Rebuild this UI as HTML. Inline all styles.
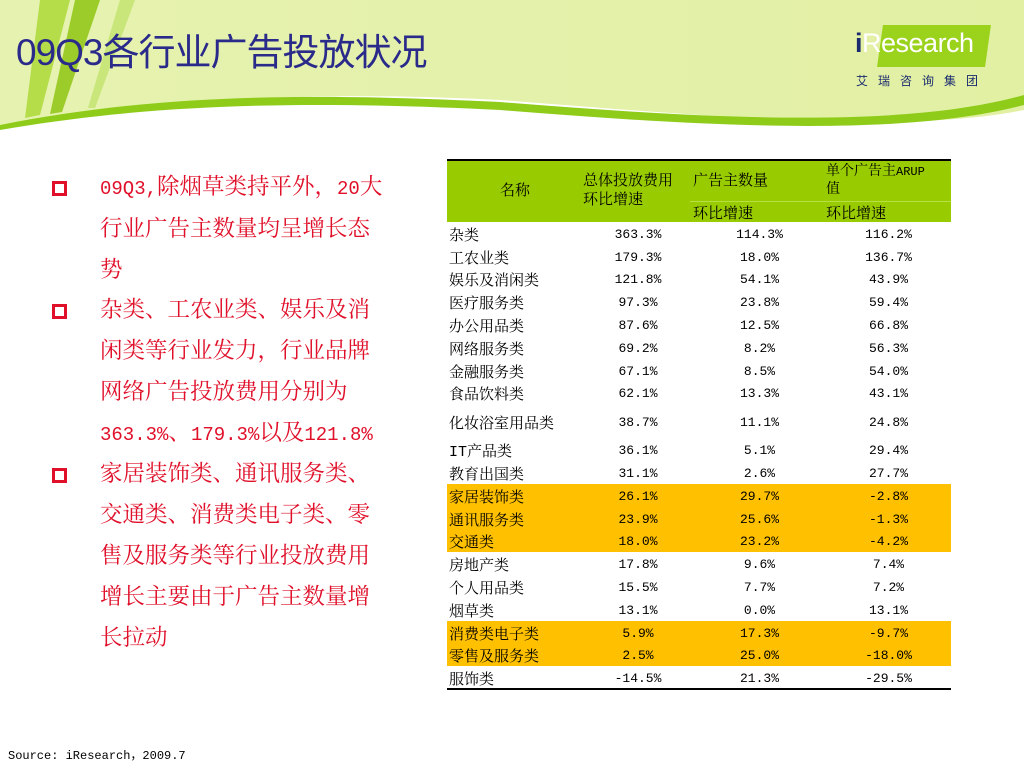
<!DOCTYPE html>
<html><head><meta charset="utf-8">
<style>
body{margin:0;width:1024px;height:768px;position:relative;overflow:hidden;background:#fff;font-family:"Liberation Mono","Noto Serif CJK SC",serif;}
.abs{position:absolute;}
#title{left:16px;top:22px;font-family:"Liberation Sans","Noto Sans CJK SC",sans-serif;font-size:37px;color:#2a2a8a;letter-spacing:-1px;white-space:nowrap;}
.bl{position:absolute;left:100px;width:300px;font-size:22.5px;line-height:41px;color:#e0102a;white-space:nowrap;}
.bl span{font-size:19px;}
.sq{position:absolute;left:52px;width:9px;height:9px;border:3px solid #e0102a;}
#tbl{position:absolute;left:447px;top:159px;width:504px;border-top:2px solid #000;border-bottom:2px solid #000;}
.row{position:absolute;left:0;width:504px;font-size:13px;color:#000;}
.c{position:absolute;top:1px;height:100%;display:flex;align-items:center;}
.nm{font-size:15px;}
.hd{font-size:15px;line-height:19px;}
</style></head><body>
<svg class="abs" style="left:0;top:0" width="1024" height="140">
<defs><linearGradient id="g" x1="0" x2="1"><stop offset="0" stop-color="#e6f2b0"/><stop offset="1" stop-color="#e2f0a4"/></linearGradient></defs>
<path d="M0 0H1024V110 C900 135 700 115 500 100 C300 90 150 100 0 125Z" fill="url(#g)"/>
<path d="M0 125 C150 95 300 92 500 102 C700 118 900 130 1024 95 L1024 105 C900 138 700 126 500 110 C300 100 150 104 0 130Z" fill="#8fcc1a"/>
<path d="M40 0 L70 0 L40 115 L25 118Z" fill="#b5dd4a"/>
<path d="M75 0 L100 0 L62 112 L50 114Z" fill="#9ccc2a"/>
<path d="M120 0 L135 0 L95 108 L88 108Z" fill="#c8e67a"/>
</svg>
<div id="title" class="abs">09Q3各行业广告投放状况</div>
<div class="abs" style="left:880px;top:25px;width:108px;height:42px;background:#9bd21c;transform:skewX(-8deg)"></div>
<div class="abs" style="left:855px;top:28px;font-family:'Liberation Sans',sans-serif;font-size:27px;color:#fff;letter-spacing:-0.5px"><span style="color:#1a2a6e;font-weight:bold">i</span>Research</div>
<div class="abs" style="left:856px;top:72px;font-family:'Liberation Sans','Noto Sans CJK SC',sans-serif;font-size:12px;letter-spacing:10px;color:#1a2a6e">艾瑞咨询集团</div>

<div class="sq" style="top:181px"></div>
<div class="bl" style="top:168px"><span>09Q3,</span>除烟草类持平外，<span>20</span>大<br>行业广告主数量均呈增长态<br>势</div>
<div class="sq" style="top:304px"></div>
<div class="bl" style="top:291px">杂类、工农业类、娱乐及消<br>闲类等行业发力，行业品牌<br>网络广告投放费用分别为<br><span>363.3%</span>、<span>179.3%</span>以及<span>121.8%</span></div>
<div class="sq" style="top:468px"></div>
<div class="bl" style="top:455px">家居装饰类、通讯服务类、<br>交通类、消费类电子类、零<br>售及服务类等行业投放费用<br>增长主要由于广告主数量增<br>长拉动</div>

<div id="tbl" style="height:527px">
 <div class="abs" style="left:0;top:0;width:504px;height:61px;background:#99cc00">
  <div class="abs hd" style="left:0;top:0;width:136px;height:61px;display:flex;align-items:center;justify-content:center">名称</div>
  <div class="abs hd" style="left:136px;top:11px">总体投放费用<br>环比增速</div>
  <div class="abs hd" style="left:246px;top:11px">广告主数量</div>
  <div class="abs hd" style="left:246px;top:44px">环比增速</div>
  <div class="abs hd" style="left:379px;top:2px;font-size:14px;line-height:18px">单个广告主<span style="font-size:12px">ARUP</span><br>值</div>
  <div class="abs hd" style="left:379px;top:44px">环比增速</div>
  <div class="abs" style="left:243px;top:40px;width:261px;border-top:1px solid #b8e040"></div>
 </div>
 <div id="rows"></div>
</div>
<div class="abs" style="left:8px;top:746px;font-size:12px;font-family:'Liberation Mono','Noto Sans CJK SC',monospace">Source: iResearch，2009.7</div>
<script>
const categories=["杂类","工农业类","娱乐及消闲类","医疗服务类","办公用品类","网络服务类","金融服务类","食品饮料类","化妆浴室用品类","IT产品类","教育出国类","家居装饰类","通讯服务类","交通类","房地产类","个人用品类","烟草类","消费类电子类","零售及服务类","服饰类"];
const spendGrowth=[363.3,179.3,121.8,97.3,87.6,69.2,67.1,62.1,38.7,36.1,31.1,26.1,23.9,18.0,17.8,15.5,13.1,5.9,2.5,-14.5];
const advertiserGrowth=[114.3,18.0,54.1,23.8,12.5,8.2,8.5,13.3,11.1,5.1,2.6,29.7,25.6,23.2,9.6,7.7,0.0,17.3,25.0,21.3];
const arupGrowth=[116.2,136.7,43.9,59.4,66.8,56.3,54.0,43.1,24.8,29.4,27.7,-2.8,-1.3,-4.2,7.4,7.2,13.1,-9.7,-18.0,-29.5];
const highlighted=["家居装饰类","通讯服务类","交通类","消费类电子类","零售及服务类"];
const rows=document.getElementById('rows');
let y=61;
categories.forEach((cat,i)=>{
  const h=cat==="化妆浴室用品类"?34:22.8;
  const r=document.createElement('div');
  r.className='row';
  
  
  r.style.top=y+'px';r.style.height=h+'px';
  if(highlighted.includes(cat))r.style.background='#ffc000';
  const f=v=>v.toFixed(1)+'%';
  r.innerHTML=`<div class="c nm" style="left:2px">${cat}</div><div class="c" style="left:136px;width:110px;justify-content:center">${f(spendGrowth[i])}</div><div class="c" style="left:246px;width:133px;justify-content:center">${f(advertiserGrowth[i])}</div><div class="c" style="left:379px;width:125px;justify-content:center">${f(arupGrowth[i])}</div>`;
  rows.appendChild(r);
  y+=h;
});
</script>
</body></html>
